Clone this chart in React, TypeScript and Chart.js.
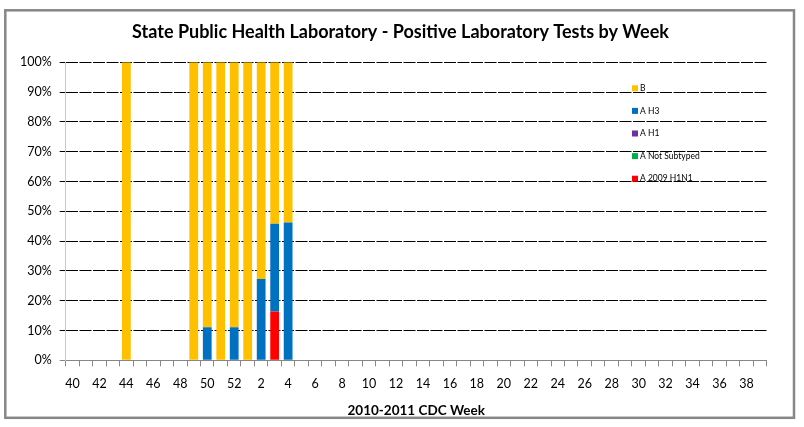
import { useEffect, useRef } from 'react';
import { Chart, registerables } from 'chart.js';

Chart.register(...registerables);

// CDC weeks, season 2010-2011
const weeks = [
  '40', '41', '42', '43', '44', '45', '46', '47', '48', '49', '50', '51', '52',
  '1', '2', '3', '4', '5', '6', '7', '8', '9', '10', '11', '12', '13',
  '14', '15', '16', '17', '18', '19', '20', '21', '22', '23', '24', '25', '26',
  '27', '28', '29', '30', '31', '32', '33', '34', '35', '36', '37', '38', '39',
];

// percent of positive tests per week
const h1n1_2009 = [
  0, 0, 0, 0, 0, 0, 0, 0, 0, 0, 0, 0, 0,
  0, 0, 16.4, 0, 0, 0, 0, 0, 0, 0, 0, 0, 0,
  0, 0, 0, 0, 0, 0, 0, 0, 0, 0, 0, 0, 0,
  0, 0, 0, 0, 0, 0, 0, 0, 0, 0, 0, 0, 0,
];
const notSubtyped = [
  0, 0, 0, 0, 0, 0, 0, 0, 0, 0, 0, 0, 0,
  0, 0, 0, 0, 0, 0, 0, 0, 0, 0, 0, 0, 0,
  0, 0, 0, 0, 0, 0, 0, 0, 0, 0, 0, 0, 0,
  0, 0, 0, 0, 0, 0, 0, 0, 0, 0, 0, 0, 0,
];
const h1 = [
  0, 0, 0, 0, 0, 0, 0, 0, 0, 0, 0, 0, 0,
  0, 0, 0, 0, 0, 0, 0, 0, 0, 0, 0, 0, 0,
  0, 0, 0, 0, 0, 0, 0, 0, 0, 0, 0, 0, 0,
  0, 0, 0, 0, 0, 0, 0, 0, 0, 0, 0, 0, 0,
];
const h3 = [
  0, 0, 0, 0, 0, 0, 0, 0, 0, 0, 11.1, 0, 11.1,
  0, 27.3, 29.4, 46.2, 0, 0, 0, 0, 0, 0, 0, 0, 0,
  0, 0, 0, 0, 0, 0, 0, 0, 0, 0, 0, 0, 0,
  0, 0, 0, 0, 0, 0, 0, 0, 0, 0, 0, 0, 0,
];
const typeB = [
  0, 0, 0, 0, 100, 0, 0, 0, 0, 100, 88.9, 100, 88.9,
  100, 72.7, 54.2, 53.8, 0, 0, 0, 0, 0, 0, 0, 0, 0,
  0, 0, 0, 0, 0, 0, 0, 0, 0, 0, 0, 0, 0,
  0, 0, 0, 0, 0, 0, 0, 0, 0, 0, 0, 0, 0,
];

const yTicks = [0, 10, 20, 30, 40, 50, 60, 70, 80, 90, 100];

const FONT = 'Lato, "Open Sans", sans-serif';

const decorPlugin = {
  id: 'decor',
  afterDraw(chart: any) {
    const ctx = chart.ctx;
    ctx.save();
    // outer frame
    ctx.strokeStyle = '#878787';
    ctx.lineWidth = 2.5;
    ctx.strokeRect(5.3, 10.3, 788.7, 407.5);

    // title
    ctx.fillStyle = '#000';
    ctx.font = `bold 18px ${FONT}`;
    ctx.textAlign = 'center';
    ctx.textBaseline = 'middle';
    ctx.fillText(
      'State Public Health Laboratory - Positive Laboratory Tests by Week',
      400.5,
      32,
    );

    // legend, top series first
    ctx.font = `8.5px ${FONT}`;
    ctx.textAlign = 'left';
    const sets = chart.data.datasets.slice().reverse();
    sets.forEach((ds: any, i: number) => {
      const y = 88.3 + i * 22.6;
      ctx.fillStyle = ds.backgroundColor;
      ctx.fillRect(632, y - 3, 6, 6);
      ctx.fillStyle = '#000';
      ctx.fillText(ds.label, 640, y);
    });
    ctx.restore();
  },
};

function App() {
  const canvasRef = useRef<HTMLCanvasElement | null>(null);

  useEffect(() => {
    const chart = new Chart(canvasRef.current as HTMLCanvasElement, {
      type: 'bar',
      data: {
        labels: weeks,
        datasets: [
          { label: 'A 2009 H1N1', data: h1n1_2009, backgroundColor: '#FF0000' },
          { label: 'A Not Subtyped', data: notSubtyped, backgroundColor: '#00B050' },
          { label: 'A H1', data: h1, backgroundColor: '#7030A0' },
          { label: 'A H3', data: h3, backgroundColor: '#0070C0' },
          { label: 'B', data: typeB, backgroundColor: '#FFC000' },
        ],
      },
      options: {
        animation: false,
        responsive: true,
        maintainAspectRatio: false,
        datasets: {
          bar: { barPercentage: 0.65, categoryPercentage: 1, borderWidth: 0 },
        },
        layout: { padding: { left: 8, right: 37.3, top: 62.3, bottom: 1.5 } },
        plugins: {
          legend: { display: false },
          title: { display: false },
          tooltip: { enabled: false },
        },
        scales: {
          x: {
            stacked: true,
            grid: {
              drawOnChartArea: false,
              drawTicks: true,
              tickLength: 6,
              color: '#878787',
              offset: true,
            },
            border: { color: '#878787', width: 1 },
            ticks: {
              autoSkip: false,
              maxRotation: 0,
              padding: 10.5,
              color: '#000',
              font: { family: FONT, size: 12.5 },
              callback: (_v: any, i: number) => (i % 2 === 0 ? weeks[i] : ''),
            },
            title: {
              display: true,
              text: '2010-2011 CDC Week',
              color: '#000',
              font: { family: FONT, size: 13.5, weight: 'bold' },
              padding: { top: 0, bottom: 7 },
            },
          },
          y: {
            stacked: true,
            min: 0,
            max: 100,
            afterFit: (s: any) => {
              s.width = 57.7;
            },
            afterBuildTicks: (s: any) => {
              s.ticks = yTicks.map((v) => ({ value: v }));
            },
            grid: {
              color: (c: any) => (c.tick && c.tick.value === 0 ? '#878787' : '#000'),
              tickLength: 6,
            },
            border: { display: true, color: '#c8c8c8', width: 1, dash: [12, 1.5] },
            ticks: {
              padding: 8,
              color: '#000',
              font: { family: FONT, size: 12.5 },
              callback: (v: any) => v + '%',
            },
          },
        },
      },
      plugins: [decorPlugin],
    });

    return () => chart.destroy();
  }, []);

  return (
    <div style={{ position: 'absolute', left: 0, top: 0, width: 804, height: 427 }}>
      <canvas ref={canvasRef}></canvas>
    </div>
  );
}

export default App;
